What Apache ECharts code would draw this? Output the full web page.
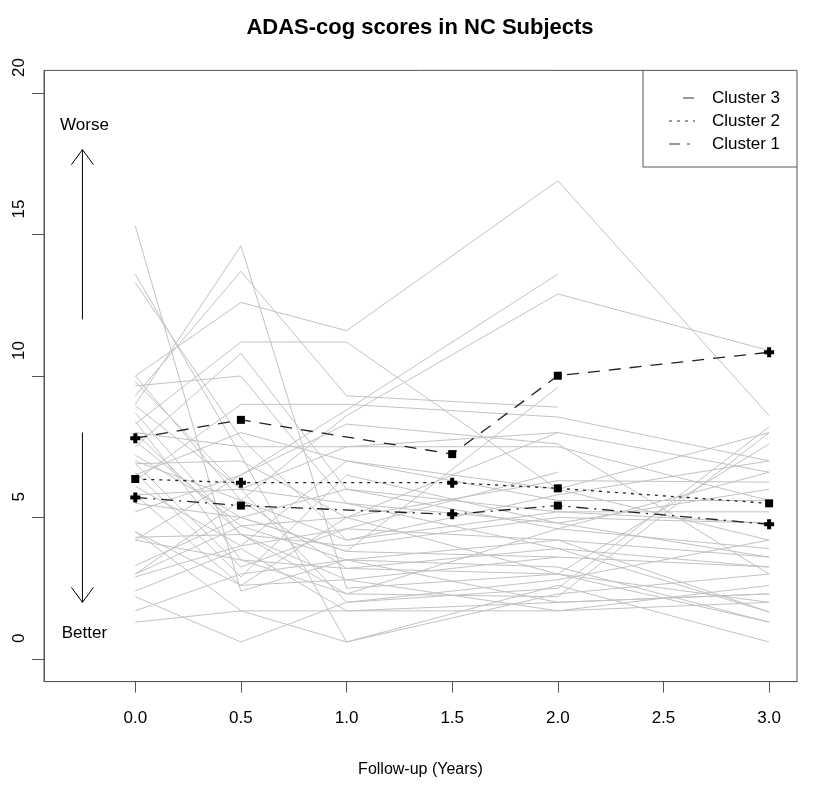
<!DOCTYPE html>
<html>
<head>
<meta charset="utf-8">
<script src="https://cdn.jsdelivr.net/npm/echarts@6/dist/echarts.min.js"></script>
<style>
html,body{margin:0;padding:0;background:#fff;}
#chart{width:813px;height:791px;}
</style>
</head>
<body>
<div id="chart"></div>
<script>
// ---- data ----
const times = [0, 0.5, 1, 2, 3];
const subjectScores = [
  [9.0, 14.6, 2.5, 3.0, 1.3],
  [9.3, 13.7, 9.3, 8.9, null],
  [10.0, 12.6, 11.6, 16.9, 8.6],
  [15.3, 2.4, 3.5, 4.2, 3.6],
  [13.6, 7.2, 0.6, 2.3, 3.0],
  [13.3, 7.8, 4.2, 5.2, 4.8],
  [8.3, 11.2, 11.2, 6.0, 4.2],
  [7.5, 10.8, 6.0, 4.6, 3.9],
  [9.65, 10.0, 5.5, 3.9, 3.25],
  [6.3, 9.0, 9.0, 8.55, 7.0],
  [4.2, 6.5, 8.8, 13.6, null],
  [3.0, 5.6, 8.6, 12.9, 10.9],
  [8.95, 6.0, 2.0, 2.5, 8.2],
  [8.7, 4.4, 2.3, 2.2, 8.0],
  [8.4, 3.5, 3.2, 3.0, 7.6],
  [8.0, 7.5, 7.5, 8.0, 6.6],
  [7.7, 4.7, 5.0, 6.3, 6.25],
  [7.2, 5.0, 3.8, 9.6, null],
  [6.9, 3.25, 4.6, 6.6, null],
  [6.6, 2.9, 6.5, 4.8, 6.0],
  [6.1, 4.0, 7.0, 5.6, 5.6],
  [5.8, 2.6, 2.8, 3.6, null],
  [5.2, 6.5, 8.3, 7.6, 3.0],
  [4.5, 1.7, 1.7, 1.7, 2.0],
  [2.2, 0.6, 2.0, 2.8, 4.2],
  [3.3, 5.0, 6.0, 5.2, 5.2],
  [2.9, 4.0, 4.6, 4.2, 1.66],
  [1.3, 1.7, 0.6, 2.6, 0.6],
  [1.7, 3.0, 3.5, 2.0, 2.3],
  [3.0, 4.7, 3.5, 3.25, 1.3],
  [5.8, 6.0, 5.5, 4.8, 3.6],
  [7.0, 5.6, 4.2, 5.8, 7.0],
  [6.9, 7.0, 5.0, 3.0, 2.0],
  [9.8, 6.0, 7.5, 7.5, 5.6],
  [4.2, 3.5, 2.3, 4.6, 6.6],
  [10.0, 5.6, 3.2, 3.9, 1.66],
  [8.0, 4.4, 2.8, 1.7, 2.6],
  [6.5, 8.0, 7.0, 6.0, 8.0],
  [5.5, 5.0, 3.8, 3.6, 3.25],
  [4.5, 2.6, 5.0, 8.0, null],
  [4.3, 4.4, 4.0, 5.0, 4.8],
  [2.4, 3.9, 1.7, 2.0, 2.3]
];

const meanTimes = [0, 0.5, 1.5, 2, 3];
const cluster3Mean = [7.80, 8.45, 7.24, 10.01, 10.84];
const cluster2Mean = [6.36, 6.23, 6.23, 6.03, 5.50];
const cluster1Mean = [5.71, 5.42, 5.11, 5.42, 4.76];
const cluster3Marks = ['plus', 'square', 'square', 'square', 'plus'];
const cluster2Marks = ['square', 'plus', 'plus', 'square', 'square'];
const cluster1Marks = ['plus', 'square', 'plus', 'square', 'plus'];
const clusterNames = ['Cluster 3', 'Cluster 2', 'Cluster 1'];

const xTicks = [0, 0.5, 1, 1.5, 2, 2.5, 3];
const yTicks = [0, 5, 10, 15, 20];

const arrows = [{x: -0.25, from: 12, to: 18}, {x: -0.25, from: 8, to: 2}];
const notes = [{x: -0.25, y: 18.85, text: 'Worse'}, {x: -0.25, y: 0.9, text: 'Better'}];

// ---- chart ----
const FONT = '"Liberation Sans", Arial, sans-serif';
const chart = echarts.init(document.getElementById('chart'), null, {renderer: 'canvas'});
const PLUS = 'path://M3,0H7V3H10V7H7V10H3V7H0V3H3Z';
const symFor = m => m === 'square' ? 'rect' : PLUS;
const sizeFor = m => m === 'square' ? 8 : 10;

const series = [];
subjectScores.forEach((row, i) => {
  series.push({
    type: 'line', name: 'subj' + i, silent: true,
    data: row.map((v, j) => [times[j], v]),
    symbol: 'none', connectNulls: false,
    lineStyle: {color: '#c2c2c2', width: 1},
    z: 1
  });
});
function meanSeries(name, vals, marks, dash) {
  return {
    type: 'line', name: name,
    data: vals.map((v, j) => ({value: [meanTimes[j], v], symbol: symFor(marks[j]), symbolSize: sizeFor(marks[j])})),
    lineStyle: {color: '#222', width: 1.3, type: dash},
    itemStyle: {color: '#000'},
    z: 5
  };
}
series.push(meanSeries(clusterNames[0], cluster3Mean, cluster3Marks, [12, 9]));
series.push(meanSeries(clusterNames[1], cluster2Mean, cluster2Marks, [3, 5]));
series.push(meanSeries(clusterNames[2], cluster1Mean, cluster1Marks, [12, 6, 2, 6]));

const option = {
  animation: false,
  backgroundColor: '#fff',
  title: {
    text: 'ADAS-cog scores in NC Subjects',
    left: 415, top: 12, textAlign: 'center',
    textStyle: {fontFamily: FONT, fontSize: 22, fontWeight: 'bold', color: '#000'}
  },
  grid: {
    left: 44, right: 16, top: 70.4, height: 611.2,
    show: true, borderColor: '#555', borderWidth: 1, backgroundColor: 'transparent'
  },
  xAxis: {
    type: 'value', min: -0.432, max: 3.132, position: 'bottom',
    name: 'Follow-up (Years)', nameLocation: 'middle', nameGap: 80,
    nameTextStyle: {fontFamily: FONT, fontSize: 16, color: '#000'},
    axisLine: {show: true, onZero: false, lineStyle: {color: '#555'}},
    axisTick: {show: true, length: 11, customValues: xTicks, lineStyle: {color: '#555'}},
    axisLabel: {customValues: xTicks, margin: 28, fontFamily: FONT, fontSize: 17, color: '#000',
      formatter: v => v.toFixed(1)},
    splitLine: {show: false}
  },
  yAxis: {
    type: 'value', min: -0.8, max: 20.8, position: 'left',
    axisLine: {show: true, onZero: false, lineStyle: {color: '#555'}},
    axisTick: {show: true, length: 12, customValues: yTicks, lineStyle: {color: '#555'}},
    axisLabel: {customValues: yTicks, rotate: 90, margin: 16, align: 'left', padding: [0, 0, 0, 16],
      fontFamily: FONT, fontSize: 17, color: '#000'},
    splitLine: {show: false}
  },
  series: series
};
chart.setOption(option);

// ---- annotations and legend ----
const g = [];
arrows.forEach(a => {
  const p0 = chart.convertToPixel({gridIndex: 0}, [a.x, a.from]);
  const p1 = chart.convertToPixel({gridIndex: 0}, [a.x, a.to]);
  const dir = p1[1] < p0[1] ? 1 : -1;
  g.push({type: 'line', shape: {x1: p0[0], y1: p0[1], x2: p1[0], y2: p1[1]}, style: {stroke: '#000', lineWidth: 1}});
  g.push({type: 'polyline', shape: {points: [[p1[0] - 11, p1[1] + dir * 15], [p1[0], p1[1]], [p1[0] + 11, p1[1] + dir * 15]]},
    style: {stroke: '#000', lineWidth: 1, fill: null}});
});
notes.forEach(n => {
  const p = chart.convertToPixel({gridIndex: 0}, [n.x, n.y]);
  g.push({type: 'text', x: p[0] + 2, y: p[1], style: {text: n.text, fontFamily: FONT, fontSize: 17, fill: '#000',
    align: 'center', verticalAlign: 'middle'}});
});
// legend box (top-right, inside plot)
const lx0 = 643, ly0 = 70.4, lx1 = 797, ly1 = 167;
g.push({type: 'polyline', shape: {points: [[lx0, ly0], [lx0, ly1], [lx1, ly1]]}, style: {stroke: '#555', lineWidth: 1, fill: null}});
const legendDash = [[11, 9], [3, 5], [11, 7, 3, 10]];
const legendStart = [683, 669, 669];
clusterNames.forEach((nm, i) => {
  const yy = 98 + i * 23;
  g.push({type: 'line', shape: {x1: legendStart[i], y1: yy, x2: 695, y2: yy}, style: {stroke: '#333', lineWidth: 1, lineDash: legendDash[i]}});
  g.push({type: 'text', x: 712, y: yy, style: {text: nm, fontFamily: FONT, fontSize: 17, fill: '#000', align: 'left', verticalAlign: 'middle'}});
});
chart.setOption({graphic: g});
</script>
</body>
</html>
